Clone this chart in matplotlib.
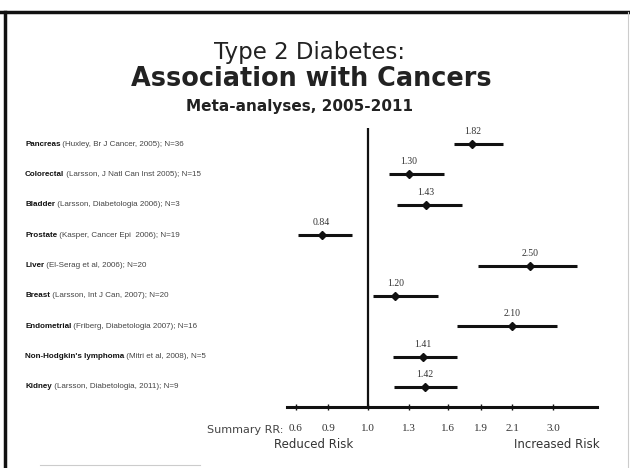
import numpy as np
import matplotlib
matplotlib.use("Agg")
import matplotlib.pyplot as plt
from matplotlib.lines import Line2D
from matplotlib.transforms import blended_transform_factory

# Meta-analysis results: summary relative risk with 95% CI
sites = ["Pancreas", "Colorectal", "Bladder", "Prostate", "Liver", "Breast",
         "Endometrial", "Non-Hodgkin's lymphoma", "Kidney"]
sources = ["(Huxley, Br J Cancer, 2005); N=36",
           "(Larsson, J Natl Can Inst 2005); N=15",
           "(Larsson, Diabetologia 2006); N=3",
           "(Kasper, Cancer Epi  2006); N=19",
           "(El-Serag et al, 2006); N=20",
           "(Larsson, Int J Can, 2007); N=20",
           "(Friberg, Diabetologia 2007); N=16",
           "(Mitri et al, 2008), N=5",
           "(Larsson, Diabetologia, 2011); N=9"]
rr = [1.82, 1.30, 1.43, 0.84, 2.50, 1.20, 2.10, 1.41, 1.42]
ci_low = [1.65, 1.15, 1.21, 0.62, 1.87, 1.04, 1.68, 1.18, 1.19]
ci_high = [2.04, 1.57, 1.73, 0.96, 3.53, 1.52, 3.09, 1.68, 1.68]
tick_values = [0.6, 0.9, 1.0, 1.3, 1.6, 1.9, 2.1, 3.0]

# Piecewise-linear RR axis: ticks sit at uneven spacing
knots = np.array([0.5, 0.6, 0.9, 1.0, 1.3, 1.6, 1.9, 2.1, 3.0, 4.0])
knot_pos = np.array([285.3, 296, 328, 368, 409, 448, 481, 512, 553, 598.6])


def fwd(v):
    return np.interp(v, knots, knot_pos)


def inv(p):
    return np.interp(p, knot_pos, knots)


W, H = 630, 468
fig = plt.figure(figsize=(W / 100, H / 100), dpi=100)
fig.patch.set_facecolor("white")

ax = fig.add_axes([287 / W, 1 - 407 / H, (597 - 287) / W, (407 - 128) / H])
ax.set_xscale("function", functions=(fwd, inv))
ax.set_xlim(inv(287), inv(597))
n = len(sites)
ax.set_ylim(8.66, -0.53)
ypos = np.arange(n)

for s in ["top", "right", "left"]:
    ax.spines[s].set_visible(False)
ax.spines["bottom"].set_linewidth(2.2)
ax.spines["bottom"].set_color("#111111")
ax.set_yticks([])
ax.set_xticks(tick_values)
ax.set_xticklabels([f"{v:.1f}" for v in tick_values],
                   family="Liberation Serif", fontsize=8, color="#333333")
ax.xaxis.set_minor_locator(matplotlib.ticker.NullLocator())
ax.tick_params(axis="x", direction="inout", length=4, width=1, pad=10,
               color="#111111")

ax.axvline(1.0, color="#111111", lw=1.6)

for i in range(n):
    ax.hlines(ypos[i], ci_low[i], ci_high[i], color="#111111", lw=2.2)
    ax.plot(rr[i], ypos[i], marker="D", color="#111111", ms=4.5)
    ax.annotate(f"{rr[i]:.2f}", (rr[i], ypos[i]), xytext=(0, 9),
                textcoords="offset points", ha="center", va="center",
                family="Liberation Serif", fontsize=7, color="#333333")

# Row labels: bold site name followed by the source
tr = blended_transform_factory(fig.transFigure, ax.transData)
for i in range(n):
    t = ax.text(25 / W, ypos[i], sites[i], transform=tr, ha="left",
                va="center", family="Liberation Sans", fontweight="bold",
                fontsize=5.8, color="#111111")
    ax.annotate(" " + sources[i], xy=(1, 0.5), xycoords=t, ha="left",
                va="center", family="Liberation Sans", fontsize=5.8,
                color="#444444")

# Titles
fig.text(309 / W, 1 - 53 / H, "Type 2 Diabetes:", ha="center", va="center",
         family="DejaVu Sans", fontsize=16.5, color="#222222")
fig.text(311 / W, 1 - 79 / H, "Association with Cancers", ha="center",
         va="center", family="DejaVu Sans", fontweight="bold", fontsize=18.4,
         color="#222222")
fig.text(300 / W, 1 - 107 / H, "Meta-analyses, 2005-2011", ha="center",
         va="center", family="DejaVu Sans", fontweight="bold", fontsize=11,
         color="#222222")

# Axis annotations
fig.text(283 / W, 1 - 430 / H, "Summary RR:", ha="right", va="center",
         family="DejaVu Sans", fontsize=8, color="#444444")
fig.text(314 / W, 1 - 445 / H, "Reduced Risk", ha="center", va="center",
         family="DejaVu Sans", fontsize=8.5, color="#333333")
fig.text(600 / W, 1 - 445 / H, "Increased Risk", ha="right", va="center",
         family="DejaVu Sans", fontsize=8.5, color="#333333")

# Slide frame
fig.add_artist(Line2D([0, 1], [1 - 12 / H, 1 - 12 / H], transform=fig.transFigure,
                      color="#111111", lw=2.5))
fig.add_artist(Line2D([5 / W, 5 / W], [0, 1 - 12 / H], transform=fig.transFigure,
                      color="#111111", lw=2.5))
fig.add_artist(Line2D([628 / W, 628 / W], [0, 1 - 12 / H],
                      transform=fig.transFigure, color="#cccccc", lw=0.8))
fig.add_artist(Line2D([40 / W, 200 / W], [1 - 465 / H, 1 - 465 / H],
                      transform=fig.transFigure, color="#cccccc", lw=0.8))

fig.savefig("out.png", dpi=100)
